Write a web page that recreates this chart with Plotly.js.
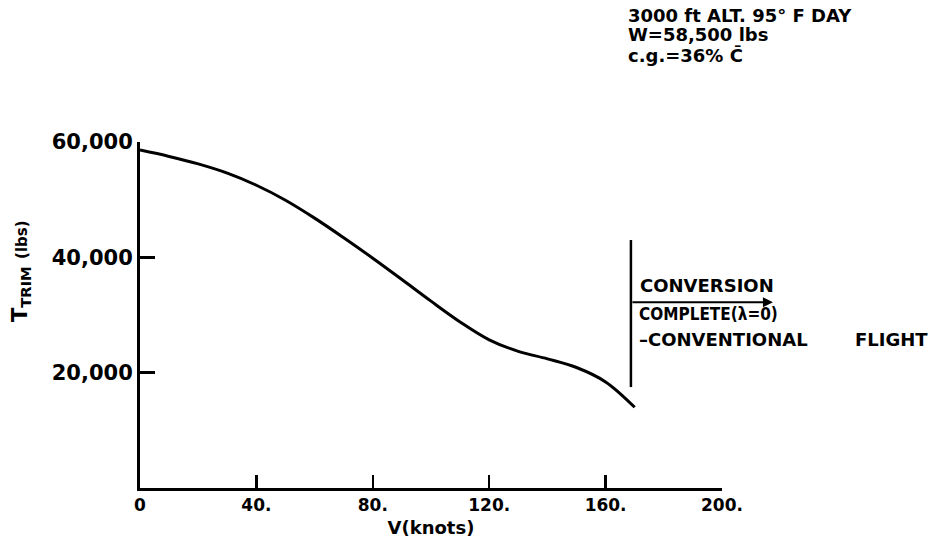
<!DOCTYPE html>
<html>
<head>
<meta charset="utf-8">
<script src="https://cdn.plot.ly/plotly-3.0.1.min.js"></script>
<style>html,body{margin:0;padding:0;background:#fff;}#chart{width:931px;height:547px;}</style>
</head>
<body>
<div id="chart"></div>
<script>
// Airspeed (knots) and trim thrust (lbs)
const speedKnots = [0, 10, 20, 30, 40, 50, 60, 70, 80, 90, 100, 110, 120, 130, 140, 150, 160, 170];
const trimThrust = [58600, 57500, 56200, 54600, 52500, 49900, 46800, 43400, 39850, 36150, 32400, 28800, 25700, 23700, 22400, 20900, 18400, 14000];

const xTickVals = [0, 40, 80, 120, 160, 200];
const xTickText = ["0", "40.", "80.", "120.", "160.", "200."];
const yTickVals = [20000, 40000, 60000];
const yTickText = ["20,000", "40,000", "60,000"];

// conversion marker (vertical bar and arrow), in data units
const conversionSpeed = 168.7;
const conversionBarLow = 17500;
const conversionBarHigh = 43000;
const arrowLevel = 32200;
const arrowEnd = 217.5;

// annotation texts
const noteLines = ["3000 ft ALT. 95° F DAY", "W=58,500 lbs", "c.g.=36% C\u0304"];
const conversionLines = ["CONVERSION", "COMPLETE(λ=0)", "–CONVENTIONAL", "FLIGHT"];

const FONT = "DejaVu Sans, sans-serif";
const NARROW = "DejaVu Sans Condensed, Liberation Sans Narrow, DejaVu Sans, sans-serif";

// plot area in pixels: x 140..722, y 142..488
const PL = 140, PW = 582, PT = 142, PH = 346;
const px = v => (v - PL) / PW;
const py = v => (PT + PH - v) / PH;

const data = [{
  x: speedKnots,
  y: trimThrust,
  type: "scatter",
  mode: "lines",
  line: {color: "#000", width: 3, shape: "spline", smoothing: 1},
  hoverinfo: "skip",
  showlegend: false,
  cliponaxis: false
}];

const ann = [];
ann.push({
  xref: "x", yref: "y", axref: "x", ayref: "y",
  x: arrowEnd, y: arrowLevel, ax: conversionSpeed, ay: arrowLevel,
  text: "", showarrow: true, arrowhead: 2, arrowsize: 1, arrowwidth: 2, arrowcolor: "#000"
});
ann.push({xref: "paper", yref: "paper", x: px(638), y: py(285), xanchor: "left", yanchor: "middle",
  text: "<b>" + conversionLines[0] + "</b>", showarrow: false, font: {family: FONT, size: 18, color: "#000"}});
ann.push({xref: "paper", yref: "paper", x: px(637), y: py(314), xanchor: "left", yanchor: "middle",
  text: "<b>" + conversionLines[1] + "</b>", showarrow: false, font: {family: NARROW, size: 17, color: "#000"}});
ann.push({xref: "paper", yref: "paper", x: px(637), y: py(339), xanchor: "left", yanchor: "middle",
  text: "<b>" + conversionLines[2] + "</b>", showarrow: false, font: {family: FONT, size: 18, color: "#000"}});
ann.push({xref: "paper", yref: "paper", x: px(853), y: py(339), xanchor: "left", yanchor: "middle",
  text: "<b>" + conversionLines[3] + "</b>", showarrow: false, font: {family: FONT, size: 18, color: "#000"}});
const noteY = [15, 35, 55];
noteLines.forEach((t, i) => ann.push({
  xref: "paper", yref: "paper", x: px(626), y: py(noteY[i]), xanchor: "left", yanchor: "middle",
  text: "<b>" + t + "</b>", showarrow: false, font: {family: FONT, size: 18, color: "#000"}
}));
// y axis title (placed off-centre as in the reference)
ann.push({
  xref: "paper", yref: "paper", x: px(21), y: py(271), xanchor: "center", yanchor: "middle",
  textangle: -90, showarrow: false,
  text: "<b>T<sub>TRIM</sub> <span style='font-size:15px'>(lbs)</span></b>",
  font: {family: FONT, size: 21, color: "#000"}
});

const layout = {
  width: 931,
  height: 547,
  paper_bgcolor: "#fff",
  plot_bgcolor: "#fff",
  margin: {l: PL, r: 931 - PL - PW, t: PT, b: 547 - PT - PH},
  showlegend: false,
  font: {family: FONT, color: "#000"},
  xaxis: {
    range: [0, 200],
    tickvals: xTickVals,
    ticktext: xTickText,
    ticks: "inside",
    ticklen: 13,
    tickwidth: 2.5,
    tickcolor: "#000",
    showline: true,
    linewidth: 3,
    linecolor: "#000",
    showgrid: false,
    zeroline: false,
    tickfont: {family: FONT, size: 17, color: "#000", weight: "bold"},
    title: {text: "<b>V(knots)</b>", font: {family: FONT, size: 18, color: "#000"}, standoff: 7}
  },
  yaxis: {
    range: [0, 60000],
    tickvals: yTickVals,
    ticktext: yTickText,
    ticks: "inside",
    ticklen: 15,
    tickwidth: 2.5,
    tickcolor: "#000",
    showline: true,
    linewidth: 3,
    linecolor: "#000",
    showgrid: false,
    zeroline: false,
    tickfont: {family: FONT, size: 21, color: "#000", weight: "bold"}
  },
  shapes: [{
    type: "line", xref: "x", yref: "y",
    x0: conversionSpeed, x1: conversionSpeed,
    y0: conversionBarLow, y1: conversionBarHigh,
    line: {color: "#000", width: 2.5}
  }],
  annotations: ann
};

Plotly.newPlot("chart", data, layout, {displayModeBar: false, staticPlot: true});
</script>
</body>
</html>
